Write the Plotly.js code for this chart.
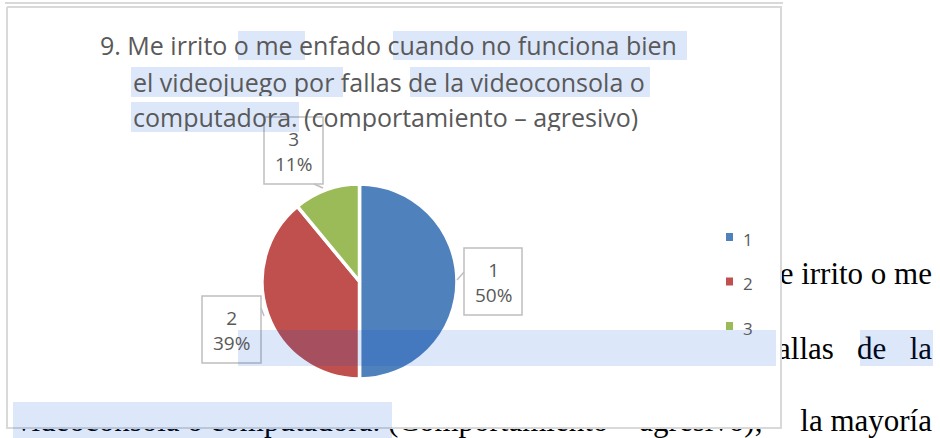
<!DOCTYPE html>
<html><head><meta charset="utf-8">
<script src="https://cdn.plot.ly/plotly-3.0.1.min.js"></script>
<style>
html,body{margin:0;padding:0;background:#fff;}
#chart{width:940px;height:438px;}
</style></head><body><div id="chart"></div>
<script>
// ---- data ----
const categories = ['1', '2', '3'];
const values = [50, 39, 11];
const sliceColors = ['#4f81bd', '#c0504d', '#9bbb59'];
const titleLines = [
  '9. Me irrito o me enfado cuando no funciona bien',
  'el videojuego por fallas de la videoconsola o',
  'computadora. (comportamiento \u2013 agresivo)'
];
const docLines = [
  'Me irrito o me',
  'fallas\u00a0\u00a0\u00a0de\u00a0\u00a0\u00a0la',
  'la mayoría',
  'videoconsola\u00a0o\u00a0computadora.\u00a0(Comportamiento\u00a0\u2013\u00a0agresivo),'
];

// ---- layout helpers (pixel coordinates) ----
const W = 940, H = 438;
const docPos = {x: [932, 932, 932, 16], y: [276, 351, 423, 423],
  pos: ['middle left', 'middle left', 'middle left', 'middle right']};
const frame = {x0: 7, x1: 781, y0: 7, y1: 428};
const pie = {cx: 359.5, cy: 281.5, r: 97.5};
const titlePos = [{x: 98, y: 45}, {x: 131, y: 82}, {x: 131, y: 117}];
// callout boxes [x0, y0, x1, y1] and pointer [fromX, fromY, toX, toY]
const calloutBox = [[464, 248, 522, 315], [202, 296, 261, 363], [264, 117, 323, 184]];
const calloutPointer = [[464, 272, 457, 280], [261, 308, 264, 316], [314, 184, 323, 188]];
const legendY = [237, 281.5, 326];
const highlights = [
  [238, 31, 305, 60], [393, 31, 687, 60],
  [131, 67, 343, 97], [410, 67, 650, 97],
  [131, 102, 299, 132],
  [238, 330, 776, 366], [860, 330, 933, 366],
  [13, 402, 392, 440]
];

const total = values.reduce((a, b) => a + b, 0);
const pct = values.map(v => Math.round(v / total * 100));

const grey = '#595959';
const sans = '"Open Sans", Lato, sans-serif';
const boxGrey = '#bfbfbf';

const traces = [
  { // underlying document text
    type: 'scatter', mode: 'text', x: docPos.x, y: docPos.y, text: docLines,
    textposition: docPos.pos, cliponaxis: false,
    textfont: {family: '"Liberation Serif", "Times New Roman", serif', size: 31, color: '#000'},
    hoverinfo: 'skip', showlegend: false
  },
  { // chart frame (white box)
    type: 'scatter', mode: 'lines', fill: 'toself', fillcolor: '#ffffff',
    x: [frame.x0, frame.x1, frame.x1, frame.x0, frame.x0],
    y: [frame.y0, frame.y0, frame.y1, frame.y1, frame.y0],
    line: {color: '#d9d9d9', width: 2}, hoverinfo: 'skip', showlegend: false
  },
  {
    type: 'pie', labels: categories, values: values, sort: false,
    direction: 'clockwise', rotation: 0, textinfo: 'none', hoverinfo: 'label+percent',
    marker: {colors: sliceColors, line: {color: '#ffffff', width: 3.5}},
    domain: {x: [(pie.cx - pie.r) / W, (pie.cx + pie.r) / W],
             y: [(H - pie.cy - pie.r) / H, (H - pie.cy + pie.r) / H]},
    showlegend: false
  }
];

const annotations = [];
titleLines.forEach((t, i) => annotations.push({
  xref: 'x', yref: 'y', x: titlePos[i].x, y: titlePos[i].y, xanchor: 'left', yanchor: 'middle',
  height: 28, text: t, showarrow: false, font: {family: sans, size: 25, color: grey}
}));
categories.forEach((c, i) => {
  const b = calloutBox[i];
  annotations.push({
    xref: 'x', yref: 'y', x: (b[0] + b[2]) / 2, y: (b[1] + b[3]) / 2 + 1,
    xanchor: 'center', yanchor: 'middle',
    text: c + '<br>' + pct[i] + '%', showarrow: false, align: 'center',
    font: {family: sans, size: 19, color: grey}
  });
});
categories.forEach((c, i) => annotations.push({
  xref: 'x', yref: 'y', x: 741, y: legendY[i] + 2, xanchor: 'left', yanchor: 'middle',
  text: c, showarrow: false, font: {family: sans, size: 17, color: grey}
}));

const shapes = [
  {type: 'line', xref: 'x', yref: 'y', x0: 5, x1: 783, y0: 3, y1: 3, line: {color: '#d9d9d9', width: 2}, layer: 'above'}
];
calloutBox.forEach((b, i) => {
  shapes.push({type: 'rect', xref: 'x', yref: 'y', x0: b[0], y0: b[1], x1: b[2], y1: b[3],
    line: {color: boxGrey, width: 1.5}, fillcolor: 'rgba(0,0,0,0)', layer: 'above'});
  const p = calloutPointer[i];
  shapes.push({type: 'line', xref: 'x', yref: 'y', x0: p[0], y0: p[1], x1: p[2], y1: p[3],
    line: {color: boxGrey, width: 1.5}, layer: 'above'});
});
categories.forEach((c, i) => shapes.push({
  type: 'rect', xref: 'x', yref: 'y', x0: 726, x1: 733, y0: legendY[i] - 4, y1: legendY[i] + 4,
  fillcolor: sliceColors[i], line: {width: 0}, layer: 'above'
}));
highlights.forEach(h => shapes.push({
  type: 'rect', xref: 'x', yref: 'y', x0: h[0], y0: h[1], x1: h[2], y1: h[3],
  fillcolor: 'rgba(0,78,217,0.135)', line: {width: 0}, layer: 'above'
}));

const layout = {
  width: W, height: H, margin: {l: 0, r: 0, t: 0, b: 0},
  paper_bgcolor: '#ffffff', plot_bgcolor: 'rgba(0,0,0,0)', showlegend: false,
  xaxis: {range: [0, W], visible: false, fixedrange: true},
  yaxis: {range: [H, 0], visible: false, fixedrange: true},
  annotations: annotations, shapes: shapes
};
Plotly.newPlot('chart', traces, layout, {staticPlot: true, displayModeBar: false});
</script></body></html>
